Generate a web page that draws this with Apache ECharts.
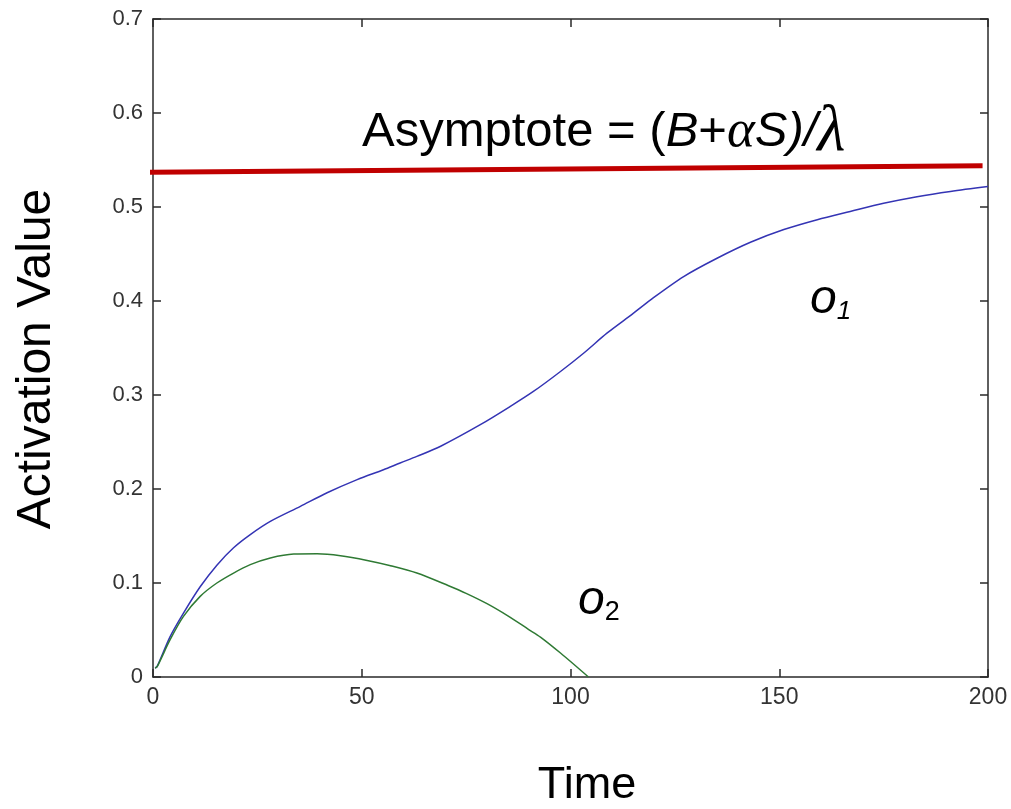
<!DOCTYPE html>
<html>
<head>
<meta charset="utf-8">
<script src="https://cdn.jsdelivr.net/npm/echarts@6/dist/echarts.min.js"></script>
<style>
  html, body { margin: 0; padding: 0; background: #fff; }
  #chart { width: 1011px; height: 809px; }
</style>
</head>
<body>
<div id="chart"></div>
<script>
// Activation of two output units over time
const timeO1 = [0.5, 1, 4.1, 7.3, 11.3, 15.3, 19.3, 23.3, 28.1, 35.3, 41.7, 48.9, 55.2, 59.2, 63.2, 68.9,
  78.4, 85.6, 91.2, 97.6, 103.2, 108.8, 115.1, 119.1, 127.1, 135.1, 143.1, 151.1, 159.1, 167, 175, 183, 191, 200];
const valuesO1 = [0.0096, 0.0113, 0.043, 0.068, 0.096, 0.119, 0.1375, 0.1515, 0.1655, 0.1815, 0.196, 0.21, 0.2205, 0.2277, 0.2347, 0.2455,
  0.2684, 0.2879, 0.304, 0.325, 0.3447, 0.366, 0.387, 0.401, 0.426, 0.4455, 0.4625, 0.476, 0.4865, 0.4953, 0.504, 0.511, 0.5166, 0.5218];

const timeO2 = [0.5, 1, 4.1, 7.3, 11.3, 15.3, 19.3, 23.3, 28.1, 33.7, 39.3, 44.9, 51.3, 56.9, 63.2, 70.8, 75, 80, 85, 90, 92.8, 97.6, 104.3];
const valuesO2 = [0.0096, 0.011, 0.0397, 0.0645, 0.0858, 0.1, 0.1106, 0.1195, 0.1266, 0.1308, 0.1311, 0.129, 0.124, 0.1184, 0.1106, 0.0971, 0.089, 0.078, 0.065, 0.0505, 0.0425, 0.0255, 0];

// Asymptote line end points (time, value)
const asymptoteT = [-1.1, 198.7];
const asymptoteV = [0.537, 0.544];

const xTicks = [0, 50, 100, 150, 200];
const yTicks = [0, 0.1, 0.2, 0.3, 0.4, 0.5, 0.6, 0.7];

const pairs = (xs, ys) => xs.map((x, i) => [x, ys[i]]);

const axisColor = '#2a2a2a';
const sans = 'Liberation Sans, Arial, sans-serif';
const serif = 'Liberation Serif, Times New Roman, serif';

const chart = echarts.init(document.getElementById('chart'), null, { renderer: 'canvas' });

const frameAxis = (extra) => Object.assign({
  type: 'value',
  axisLine: { show: true, onZero: false, lineStyle: { color: axisColor, width: 1.5 } },
  axisTick: { show: true, inside: true, length: 8, lineStyle: { color: axisColor, width: 1.5 } },
  splitLine: { show: false }
}, extra);

chart.setOption({
  backgroundColor: '#ffffff',
  animation: false,
  grid: { left: 153, right: 23, top: 19, bottom: 132, containLabel: false },
  xAxis: [
    frameAxis({
      min: xTicks[0], max: xTicks[xTicks.length - 1], interval: 50, position: 'bottom',
      axisLabel: { margin: 9, fontSize: 23, color: '#333', fontFamily: sans }
    }),
    frameAxis({
      min: xTicks[0], max: xTicks[xTicks.length - 1], interval: 50, position: 'top',
      axisLabel: { show: false }
    })
  ],
  yAxis: [
    frameAxis({
      min: yTicks[0], max: yTicks[yTicks.length - 1], interval: 0.1, position: 'left',
      axisLabel: {
        margin: 10, fontSize: 22, color: '#333', fontFamily: sans,
        formatter: v => (Math.round(v * 10) / 10).toString()
      }
    }),
    frameAxis({
      min: yTicks[0], max: yTicks[yTicks.length - 1], interval: 0.1, position: 'right',
      axisLabel: { show: false }
    })
  ],
  series: [
    {
      name: 'o1', type: 'line', xAxisIndex: 0, yAxisIndex: 0,
      data: pairs(timeO1, valuesO1),
      smooth: 0.3, showSymbol: false,
      lineStyle: { color: '#3434b4', width: 1.5 }
    },
    {
      name: 'o2', type: 'line', xAxisIndex: 0, yAxisIndex: 0,
      data: pairs(timeO2, valuesO2),
      smooth: 0.3, showSymbol: false,
      lineStyle: { color: '#2f7a34', width: 1.5 }
    },
    {
      name: 'Asymptote', type: 'line', xAxisIndex: 0, yAxisIndex: 0,
      data: pairs(asymptoteT, asymptoteV),
      clip: false, showSymbol: false,
      lineStyle: { color: '#c00000', width: 5 }
    }
  ],
  graphic: [
    {
      type: 'text', left: 362, top: 100,
      style: {
        text: '{n|Asymptote = (}{i|B}{n|+}{g|α}{i|S)/}{l|λ}',
        rich: {
          n: { fontFamily: sans, fontSize: 49, fill: '#000' },
          i: { fontFamily: sans, fontSize: 49, fontStyle: 'italic', fill: '#000' },
          g: { fontFamily: serif, fontSize: 53, fontStyle: 'italic', fill: '#000' },
          l: { fontFamily: serif, fontSize: 65, fontStyle: 'italic', fill: '#000' }
        }
      }
    },
    {
      type: 'text', left: 810, top: 276,
      style: {
        text: '{o|o}{s|1}',
        rich: {
          o: { fontFamily: sans, fontSize: 48, fontStyle: 'italic', fill: '#000' },
          s: { fontFamily: sans, fontSize: 26, fontStyle: 'italic', fill: '#000', padding: [24, 0, 0, 0] }
        }
      }
    },
    {
      type: 'text', left: 578, top: 577,
      style: {
        text: '{o|o}{s|2}',
        rich: {
          o: { fontFamily: sans, fontSize: 48, fontStyle: 'italic', fill: '#000' },
          s: { fontFamily: sans, fontSize: 27, fill: '#000', padding: [24, 0, 0, 0] }
        }
      }
    },
    {
      type: 'text', x: 37, y: 359, rotation: Math.PI / 2,
      style: {
        text: 'Activation Value', fill: '#000',
        fontFamily: sans, fontSize: 48,
        align: 'center', verticalAlign: 'middle'
      }
    },
    {
      type: 'text', x: 587, y: 786,
      style: {
        text: 'Time', fill: '#000',
        fontFamily: sans, fontSize: 45,
        align: 'center', verticalAlign: 'middle'
      }
    }
  ]
});
</script>
</body>
</html>
